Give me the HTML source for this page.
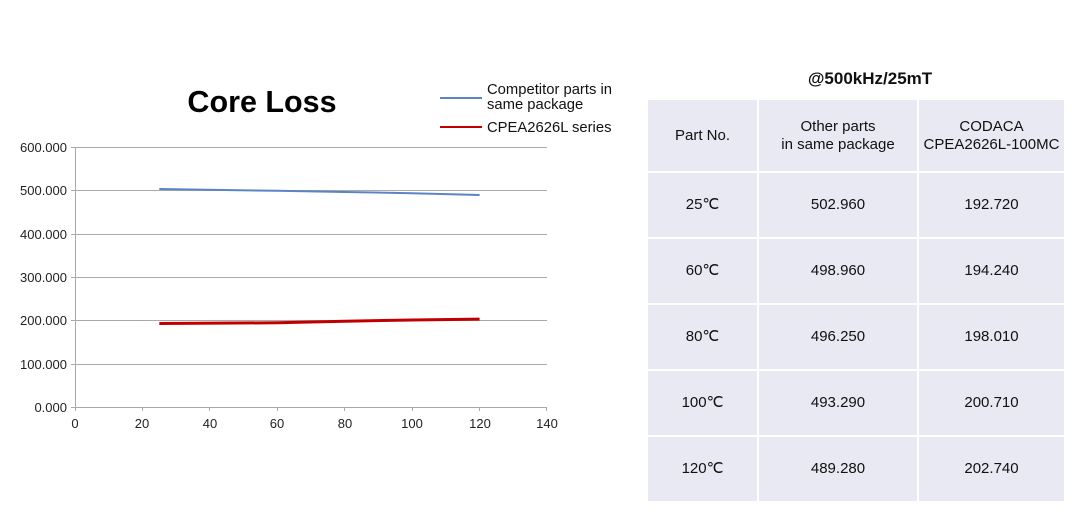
<!DOCTYPE html>
<html><head><meta charset="utf-8"><style>
body{margin:0;width:1080px;height:528px;background:#fff;font-family:"Liberation Sans",Arial,sans-serif;overflow:hidden;position:relative}
table{position:absolute;left:646px;top:98px;border-collapse:collapse;width:420px}
td{background:#e8e9f3;border:2px solid #fff;text-align:center;font-size:15px;color:#111;padding:0;line-height:18px}
</style></head><body>
<svg width="1080" height="528" style="position:absolute;left:0;top:0" font-family="Liberation Sans, Arial, sans-serif">
<text x="262" y="112" font-size="30.5" font-weight="bold" text-anchor="middle" fill="#000">Core Loss</text>
<line x1="440" y1="98" x2="482" y2="98" stroke="#5b84c4" stroke-width="2"/>
<text x="487" y="94" font-size="14.8" fill="#111">Competitor parts in</text>
<text x="487" y="109" font-size="14.8" fill="#111">same package</text>
<line x1="440" y1="127" x2="482" y2="127" stroke="#c00000" stroke-width="2"/>
<text x="487" y="132" font-size="14.8" fill="#111">CPEA2626L series</text>
<g stroke="#aaa" stroke-width="1">
<line x1="71" y1="147.5" x2="547" y2="147.5"/>
<line x1="71" y1="190.5" x2="547" y2="190.5"/>
<line x1="71" y1="234.5" x2="547" y2="234.5"/>
<line x1="71" y1="277.5" x2="547" y2="277.5"/>
<line x1="71" y1="320.5" x2="547" y2="320.5"/>
<line x1="71" y1="364.5" x2="547" y2="364.5"/>
<line x1="71" y1="407.5" x2="547" y2="407.5"/>
<line x1="75.5" y1="147" x2="75.5" y2="411"/>
<line x1="142.5" y1="407" x2="142.5" y2="411"/>
<line x1="209.5" y1="407" x2="209.5" y2="411"/>
<line x1="277.5" y1="407" x2="277.5" y2="411"/>
<line x1="344.5" y1="407" x2="344.5" y2="411"/>
<line x1="412.5" y1="407" x2="412.5" y2="411"/>
<line x1="479.5" y1="407" x2="479.5" y2="411"/>
<line x1="546.5" y1="407" x2="546.5" y2="411"/>
</g>
<g font-size="13" fill="#222" text-anchor="end">
<text x="67" y="152">600.000</text><text x="67" y="195">500.000</text><text x="67" y="239">400.000</text>
<text x="67" y="282">300.000</text><text x="67" y="325">200.000</text><text x="67" y="369">100.000</text><text x="67" y="412">0.000</text>
</g>
<g font-size="13" fill="#222" text-anchor="middle">
<text x="75" y="428">0</text><text x="142" y="428">20</text><text x="210" y="428">40</text><text x="277" y="428">60</text>
<text x="345" y="428">80</text><text x="412" y="428">100</text><text x="480" y="428">120</text><text x="547" y="428">140</text>
</g>
<polyline points="159.3,189 277.3,190.8 344.7,192 412.1,193.2 479.6,195" fill="none" stroke="#5b84c4" stroke-width="2"/>
<polyline points="159.3,323.5 277.3,322.8 344.7,321.2 412.1,320 479.6,319.1" fill="none" stroke="#c00000" stroke-width="3"/>
<text x="870" y="84" font-size="17" font-weight="bold" text-anchor="middle" fill="#111">@500kHz/25mT</text>
</svg>
<table>
<tr style="height:73px"><td style="width:109px">Part No.</td><td style="width:158px">Other parts<br>in same package</td><td>CODACA<br>CPEA2626L-100MC</td></tr>
<tr style="height:66px"><td>25℃</td><td>502.960</td><td>192.720</td></tr>
<tr style="height:66px"><td>60℃</td><td>498.960</td><td>194.240</td></tr>
<tr style="height:66px"><td>80℃</td><td>496.250</td><td>198.010</td></tr>
<tr style="height:66px"><td>100℃</td><td>493.290</td><td>200.710</td></tr>
<tr style="height:66px"><td>120℃</td><td>489.280</td><td>202.740</td></tr>
</table>
</body></html>
